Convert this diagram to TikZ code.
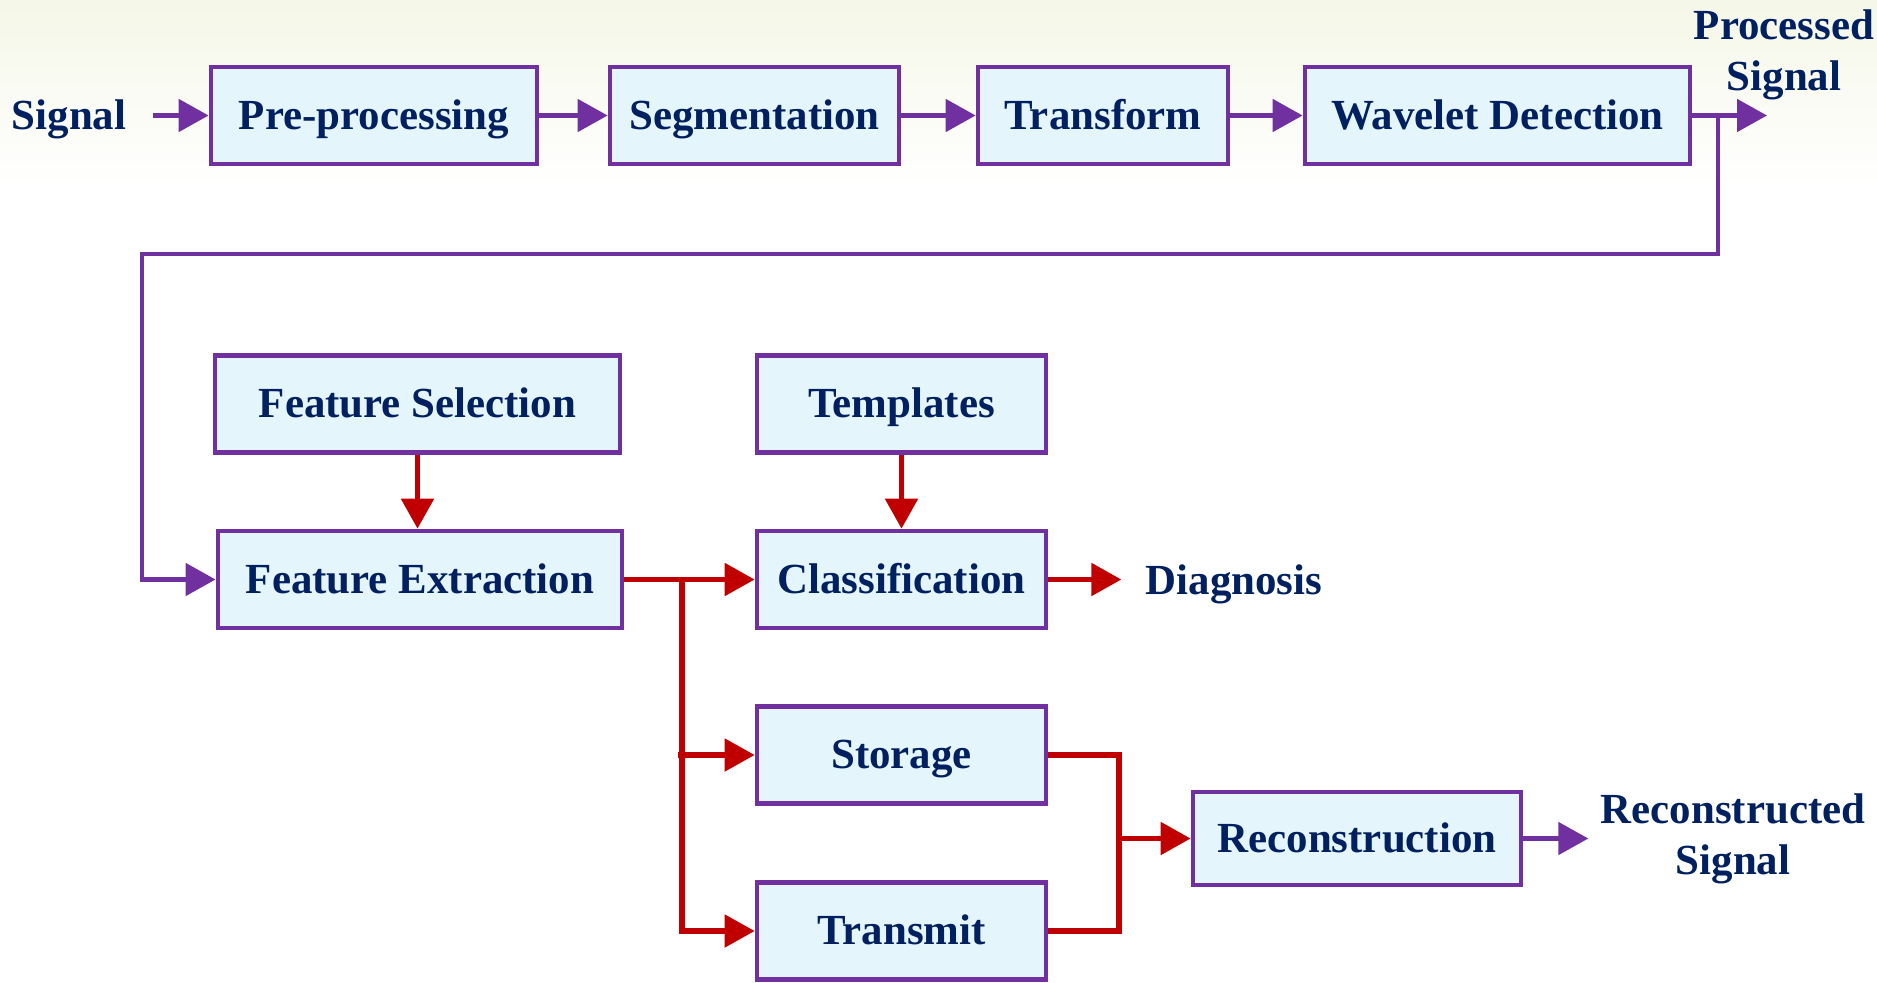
\documentclass[tikz,border=0pt]{standalone}
\usepackage{xcolor}
\usepackage{fontspec}
\setmainfont{Liberation Serif}
\usepackage{tikz}
\usetikzlibrary{shapes, arrows.meta, positioning, calc}
\definecolor{navy}{RGB}{0,32,96}
\definecolor{boxline}{RGB}{112,48,160}
\definecolor{boxfill}{RGB}{229,245,252}
\definecolor{darkred}{RGB}{192,0,0}
\definecolor{bgtop}{RGB}{245,247,232}
\tikzset{
    stagebox/.style={
        rectangle, draw=boxline, fill=boxfill, line width=1.3pt,
        minimum height=0.97cm, text centered, text=navy,
        text height=0.35cm, text depth=0.08cm,
        font=\fontsize{12.2}{14.5}\selectfont\bfseries
    },
    label/.style={text=navy, align=center,
        font=\fontsize{12.2}{14.5}\selectfont\bfseries},
    % connector styles
    parrow/.style={draw=boxline, line width=1.4pt,
        -{Triangle[length=0.3cm, width=0.32cm]}, boxline},
    rarrow/.style={draw=darkred, line width=1.5pt,
        -{Triangle[length=0.3cm, width=0.32cm]}, darkred},
    rline/.style={draw=darkred, line width=1.5pt}
}
\begin{document}
\begin{tikzpicture}[x=0.01cm, y=-0.01cm]
        \useasboundingbox (0,0) rectangle (1877,982);
        \shade [top color=bgtop, bottom color=white, draw=none] (0,0) rectangle (1877,190);

        % top row
        \node (sig) [label] at (69,119) {Signal};
        \node (pre) [stagebox, minimum width=3.26cm] at (374,115.5) {Pre-processing};
        \node (seg) [stagebox, minimum width=2.89cm] at (754.5,115.5) {Segmentation};
        \node (trf) [stagebox, minimum width=2.50cm] at (1103,115.5) {Transform};
        \node (wav) [stagebox, minimum width=3.85cm] at (1497.5,115.5) {Wavelet Detection};
        \node (psig) [label] at (1784,55) {Processed\\Signal};
        \coordinate (pout) at (1767,115.5);
        \coordinate (tap) at (1718,115.5);
        \coordinate (loop) at (142,254);

        % analysis
        \node (fsel) [stagebox, minimum width=4.05cm] at (417.5,404) {Feature Selection};
        \node (fext) [stagebox, minimum width=4.04cm] at (420,579.5) {Feature Extraction};
        \node (tmpl) [stagebox, minimum width=2.89cm] at (901.5,404) {Templates};
        \node (cls) [stagebox, minimum width=2.89cm] at (901.5,579.5) {Classification};
        \node (diag) [label] at (1234,584) {Diagnosis};
        \node (stor) [stagebox, minimum width=2.89cm] at (901.5,755) {Storage};
        \node (tx) [stagebox, minimum width=2.89cm] at (901.5,931) {Transmit};
        \node (rec) [stagebox, minimum width=3.28cm, minimum height=0.93cm] at (1357,838.5) {Reconstruction};
        \node (rsig) [label] at (1733,839) {Reconstructed\\Signal};
        \coordinate (split) at (682,579.5);
        \coordinate (merge) at (1119,838.5);

        \draw [parrow, shorten <=0.14cm] (sig.east |- pre.west) -- (pre.west);
        \draw [parrow] (pre) -- (seg);
        \draw [parrow] (seg) -- (trf);
        \draw [parrow] (trf) -- (wav);
        \draw [parrow] (wav) -- (pout);
        \draw [parrow] (tap) |- (loop) |- (fext.west);

        \draw [rarrow] (fsel.south) -- (fsel.south |- fext.north);
        \draw [rarrow] (tmpl) -- (cls);
        \draw [rarrow] (fext) -- (cls);
        \draw [rarrow] (split) |- (tx.west);
        \draw [rarrow] (split |- stor.west) ++(-4,0) -- (stor.west);
        \draw [rarrow, shorten >=0.12cm] (cls.east) -- (cls.east -| diag.west);
        \draw [rline] (stor.east) -| (merge);
        \draw [rline] (tx.east) -| (merge);
        \draw [rarrow] (merge) -- (rec);
        \draw [parrow] (rec.east) -- (rec.east -| rsig.west);
    \end{tikzpicture}
\end{document}
